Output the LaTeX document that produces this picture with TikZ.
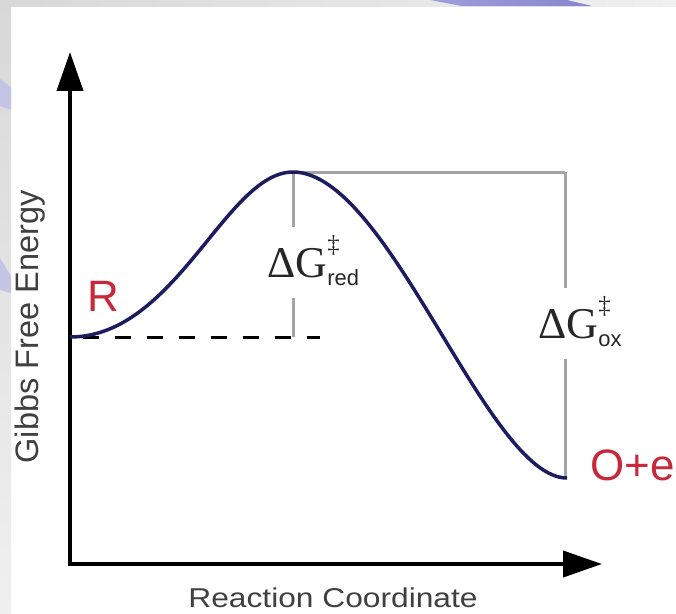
\documentclass[tikz,border=0pt]{standalone}
\usepackage{fontspec}
\setmainfont{Liberation Sans}
\newfontfamily\seriffont{Liberation Serif}
\usepackage{tikz}
\usetikzlibrary{arrows.meta, positioning, calc}

\definecolor{curvenavy}{HTML}{1C1C5E}
\definecolor{labelred}{HTML}{C8283A}
\definecolor{guidegray}{HTML}{A4A4A4}
\definecolor{framegray}{HTML}{D8D8D8}
\definecolor{framelight}{HTML}{F0F0F0}
\definecolor{swoosh}{HTML}{8686CF}
\definecolor{swooshlight}{HTML}{C4C4E6}

% Delta G with double dagger stacked over a small subscript
\newcommand{\dGlabel}[1]{{\seriffont ΔG}\raisebox{-5pt}{\fontsize{12.5}{19}\selectfont
  \begin{tabular}[b]{@{}l@{}}{\seriffont\fontsize{14}{19}\selectfont ‡}\\#1\end{tabular}}}

\begin{document}
\begin{tikzpicture}[x=0.02cm, y=-0.02cm,
  axis/.style={line width=0.08cm, line join=miter,
              {Triangle[length=0.78cm,width=0.52cm]}-{Triangle[length=0.78cm,width=0.52cm]}},
  energy/.style={line width=0.07cm, curvenavy},
  level/.style={line width=0.06cm, dash pattern=on 0.32cm off 0.32cm, dash phase=0.38cm},
  guide/.style={line width=0.06cm, guidegray},
  state/.style={text=labelred, font=\fontsize{25}{25}\selectfont, inner sep=0pt},
  dglab/.style={text=black!85, font=\fontsize{25}{25}\selectfont, inner xsep=0pt, inner ysep=1pt, anchor=base west},
  axlab/.style={text=black!75, inner sep=0pt}
]
\useasboundingbox (0,0) rectangle (676,613);
% slide background
\fill[white] (0,0) rectangle (676,613);
\shade[left color=framegray, right color=framelight] (0,0) rectangle (676,6);
\shade[top color=framegray, bottom color=framelight] (0,0) rectangle (11,613);
\shade[left color=swoosh!80, right color=swoosh] (430,0) -- (567,0) -- (592,6) -- (462,6) -- cycle;
\fill[swooshlight] (0,79) -- (11,87) -- (11,110) -- (0,106) -- cycle;
\fill[swooshlight] (0,258) -- (11,276) -- (11,293) -- (0,290) -- cycle;

\coordinate (ytip) at (70,52);
\coordinate (origin) at (70,564);
\coordinate (xtip) at (602,564);
\coordinate (rstate) at (70,337);
\coordinate (peak) at (293,172);
\coordinate (ostate) at (567,478);
\coordinate (dashend) at (320,337);
\coordinate (oxtop) at (565,172);

% axes
\draw[axis] (ytip) -- (origin) -- (xtip);
\node[axlab, rotate=90, font=\fontsize{18.5}{18.5}\selectfont] (ylab) at (30,327) {Gibbs Free Energy};
\node[axlab, xscale=1.165, font=\fontsize{15.5}{15.5}\selectfont] (xlab) at (333,598) {Reaction Coordinate};

% states
\node[state] (rlab) at (103,296) {R};
\node[state, anchor=west] (olab) at (590,465) {O+e};

% barrier labels
\node[dglab] (dgred) at (267,277) {\dGlabel{red}};
\node[dglab] (dgox) at (538,338) {\dGlabel{ox}};

\draw[guide] (peak) -- (oxtop);
\draw[guide] (peak) -- (dgred.north -| peak);
\draw[guide] (dgred.south -| peak) -- (rstate -| peak);
\draw[guide] (oxtop) -- (dgox.north -| oxtop);
\draw[guide] (dgox.south -| oxtop) -- (ostate -| oxtop);

\draw[level] (rstate) -- (dashend);

% energy profile
\draw[energy] (rstate) .. controls (176,337) and (226,172) .. (peak)
  .. controls (389,172) and (487,478) .. (ostate);
\end{tikzpicture}
\end{document}
